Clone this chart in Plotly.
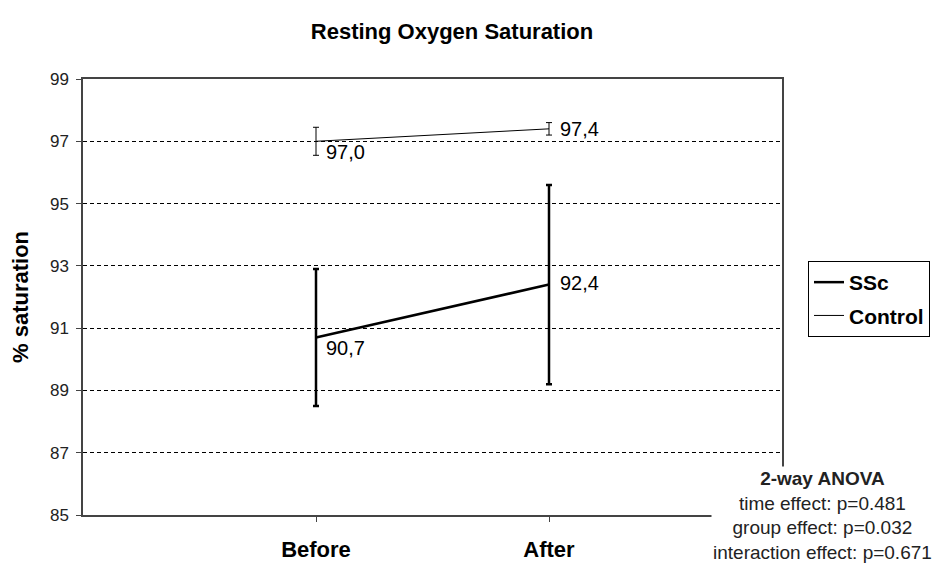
import plotly.graph_objects as go

times = ["Before", "After"]
ssc_mean = [90.7, 92.4]
ssc_err = [2.2, 3.2]
ssc_labels = ["90,7", "92,4"]
control_mean = [97.0, 97.4]
control_err = [0.45, 0.2]
control_labels = ["97,0", "97,4"]
y_ticks = [85, 87, 89, 91, 93, 95, 97, 99]
anova_lines = ["time effect: p=0.481", "group effect: p=0.032", "interaction effect: p=0.671"]

FONT = "Liberation Sans, Arial, sans-serif"
# page body adds an 8px offset, so layout positions are shifted back by 8px
OFF = 8

fig = go.Figure()
fig.add_trace(go.Scatter(
    x=times, y=ssc_mean, name="<b>SSc</b>", mode="lines", legendgroup="a",
    line=dict(color="black", width=2.5),
    error_y=dict(type="data", array=ssc_err, color="black", thickness=2.5, width=3),
))
fig.add_trace(go.Scatter(
    x=times, y=control_mean, name="<b>Control</b>", mode="lines", legendgroup="b",
    line=dict(color="black", width=1),
    error_y=dict(type="data", array=control_err, color="black", thickness=1, width=3),
))

# value labels next to each point (first point sits below-right, second to the right)
for means, labels, shifts in [
    (ssc_mean, ssc_labels, [(8, -11), (9, 2)]),
    (control_mean, control_labels, [(8, -11), (9, 0)]),
]:
    for t, m, lab, (dx, dy) in zip(times, means, labels, shifts):
        fig.add_annotation(
            x=t, y=m, text=lab, showarrow=False, xanchor="left", yanchor="middle",
            xshift=dx, yshift=dy, font=dict(size=20, color="black"),
        )

fig.update_layout(
    width=944, height=571,
    margin=dict(l=83 - OFF, r=170, t=79 - OFF, b=64),
    paper_bgcolor="white", plot_bgcolor="white",
    font=dict(family=FONT, color="black"),
    title=dict(text="<b>Resting Oxygen Saturation</b>", font=dict(size=22),
               x=(452 - OFF) / 944, xref="container", xanchor="center",
               y=1 - (31 - OFF) / 571, yref="container", yanchor="middle"),
    legend=dict(x=(808 - OFF) / 944, y=1 - (261 - OFF) / 571, xref="container", yref="container",
                xanchor="left", yanchor="top", bordercolor="black", borderwidth=1,
                font=dict(size=21), bgcolor="white", tracegroupgap=3),
    showlegend=True,
)
fig.update_xaxes(
    type="category", range=[-1, 2], tickvals=times,
    ticktext=["<b>Before</b>", "<b>After</b>"],
    tickfont=dict(size=22), ticklabelstandoff=9,
    showline=True, mirror=True, linecolor="#444", linewidth=1.5,
    ticks="outside", ticklen=5, tickcolor="#444", showgrid=False, zeroline=False,
)
fig.update_yaxes(
    range=[85, 99], tickvals=y_ticks, tickfont=dict(size=17, color="#222"),
    ticklabelstandoff=4,
    showline=True, mirror=True, linecolor="#444", linewidth=1.5,
    ticks="outside", ticklen=5, tickcolor="#444",
    showgrid=True, gridcolor="black", griddash="4px,3px", gridwidth=1, zeroline=False,
)

fig.add_annotation(
    text="<b>% saturation</b>", textangle=-90, font=dict(size=22),
    xref="paper", yref="paper", x=(20 - 83) / 699, y=0.5,
    xanchor="center", yanchor="middle", showarrow=False,
)
fig.add_annotation(
    text="<b>2-way ANOVA</b><br>" + "<br>".join(anova_lines),
    font=dict(size=19, color="#222"), align="center",
    xref="paper", yref="paper", x=(822 - 83) / 699, y=0.0,
    xanchor="center", yanchor="middle", showarrow=False, bgcolor="white",
)

fig.write_html("out.html")
